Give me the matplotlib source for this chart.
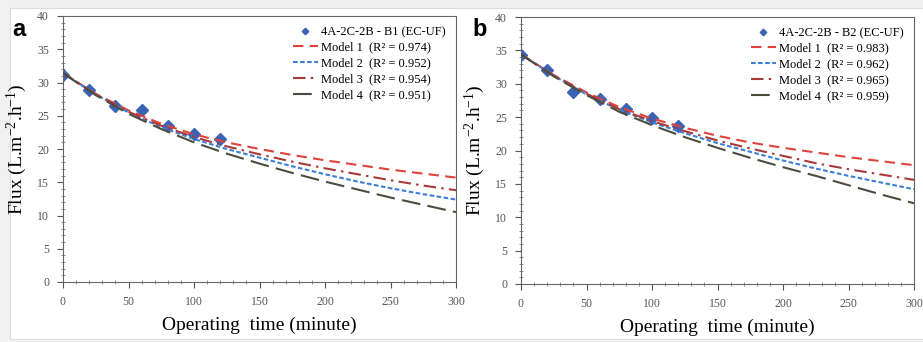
import matplotlib
matplotlib.use("Agg")
import matplotlib.pyplot as plt
from matplotlib.patches import Rectangle
from matplotlib.ticker import MultipleLocator

# ---- data ----
t_exp = [0, 20, 40, 60, 80, 100, 120]
flux_a = [31.2, 28.9, 26.4, 25.9, 23.5, 22.3, 21.5]
flux_b = [34.3, 32.0, 28.7, 27.7, 26.2, 24.8, 23.7]

t_model = [0, 25, 50, 75, 100, 125, 150, 175, 200, 225, 250, 275, 300]
a_m1 = [31.4, 28.3, 25.8, 23.8, 22.2, 21.0, 20.0, 19.1, 18.3, 17.6, 16.9, 16.3, 15.7]
a_m2 = [31.4, 28.2, 25.5, 23.3, 21.5, 20.0, 18.7, 17.4, 16.2, 15.1, 14.1, 13.2, 12.4]
a_m3 = [31.4, 28.2, 25.6, 23.5, 21.8, 20.4, 19.2, 18.1, 17.1, 16.2, 15.3, 14.5, 13.8]
a_m4 = [31.4, 28.1, 25.3, 23.0, 21.0, 19.3, 17.8, 16.4, 15.1, 13.9, 12.7, 11.6, 10.5]

b_m1 = [34.4, 31.3, 28.7, 26.5, 24.8, 23.4, 22.2, 21.2, 20.4, 19.7, 19.0, 18.4, 17.8]
b_m2 = [34.4, 31.2, 28.4, 26.1, 24.2, 22.6, 21.1, 19.8, 18.5, 17.3, 16.2, 15.2, 14.2]
b_m3 = [34.4, 31.2, 28.5, 26.2, 24.4, 22.9, 21.5, 20.3, 19.2, 18.1, 17.2, 16.4, 15.6]
b_m4 = [34.4, 31.1, 28.3, 25.8, 23.8, 22.0, 20.4, 18.9, 17.5, 16.2, 14.8, 13.4, 12.1]

r2_a = ["0.974", "0.952", "0.954", "0.951"]
r2_b = ["0.983", "0.962", "0.965", "0.959"]
series_a = "4A-2C-2B - B1 (EC-UF)"
series_b = "4A-2C-2B - B2 (EC-UF)"

serif = ["Liberation Serif", "DejaVu Serif"]
plt.rcParams["font.family"] = serif
plt.rcParams["mathtext.fontset"] = "custom"
plt.rcParams["mathtext.rm"] = "Liberation Serif"
plt.rcParams["mathtext.it"] = "Liberation Serif:italic"

fig = plt.figure(figsize=(9.23, 3.42), dpi=100)
fig.patch.set_facecolor("#f1f1f1")
fig.patches.append(Rectangle((10 / 923, 3 / 342), 913 / 923, 331 / 342,
                             transform=fig.transFigure, facecolor="white",
                             edgecolor="#dddddd", lw=0.8, zorder=-10))

col_pt = "#3a63b5"
c1, c2, c3, c4 = "#e0433b", "#3a7fd8", "#a83a3a", "#4d4d3d"


def panel(rect, flux, m1, m2, m3, m4, r2, series, letter, lx):
    ax = fig.add_axes(rect)
    ax.set_facecolor("white")
    ax.plot(t_model, m1, color=c1, ls=(0, (5, 3)), lw=1.5,
            label=f"Model 1  (R² = {r2[0]})", zorder=3)
    ax.plot(t_model, m2, color=c2, ls=(0, (2.2, 1.2)), lw=1.5,
            label=f"Model 2  (R² = {r2[1]})", zorder=3)
    ax.plot(t_model, m3, color=c3, ls=(0, (6, 2.5, 1.2, 2.5)), lw=1.5,
            label=f"Model 3  (R² = {r2[2]})", zorder=3)
    ax.plot(t_model, m4, color=c4, ls=(0, (9, 3.5)), lw=1.5,
            label=f"Model 4  (R² = {r2[3]})", zorder=3)
    ax.plot(t_exp, flux, ls="none", marker="D", ms=6, color=col_pt,
            label=series, zorder=2)
    ax.set_xlim(0, 300)
    ax.set_ylim(0, 40)
    ax.xaxis.set_major_locator(MultipleLocator(50))
    ax.xaxis.set_minor_locator(MultipleLocator(10))
    ax.yaxis.set_major_locator(MultipleLocator(5))
    ax.yaxis.set_minor_locator(MultipleLocator(1))
    ax.tick_params(which="major", direction="out", length=4, width=0.8,
                   labelsize=8.5, colors="#555555", labelcolor="#555555", pad=6)
    ax.tick_params(which="minor", direction="inout", length=3, width=0.6,
                   colors="#777777")
    for s in ax.spines.values():
        s.set_color("#666666")
        s.set_linewidth(0.8)
    ax.set_xlabel("Operating  time (minute)", fontsize=14, labelpad=6)
    ax.set_ylabel(r"Flux (L.m$^{\mathregular{-2}}$.h$^{\mathregular{-1}}$)",
                  fontsize=14, labelpad=6)
    handles, labels = ax.get_legend_handles_labels()
    order = [4, 0, 1, 2, 3]
    ax.legend([handles[i] for i in order], [labels[i] for i in order],
              loc="upper right", frameon=False, fontsize=9,
              handlelength=2.0, handletextpad=0.3, labelspacing=0.3,
              borderaxespad=0.4, markerscale=0.55)
    fig.text(lx, 1 - 30 / 342, letter, fontsize=17, fontweight="bold",
             family=["Liberation Sans", "DejaVu Sans"], va="center")
    return ax


panel([63 / 923, 1 - 282 / 342, 393 / 923, 266 / 342],
      flux_a, a_m1, a_m2, a_m3, a_m4, r2_a, series_a, "a", 12 / 923)
panel([521 / 923, 1 - 284 / 342, 393 / 923, 267 / 342],
      flux_b, b_m1, b_m2, b_m3, b_m4, r2_b, series_b, "b", 472 / 923)

fig.savefig("out.png", dpi=100, facecolor=fig.get_facecolor())
